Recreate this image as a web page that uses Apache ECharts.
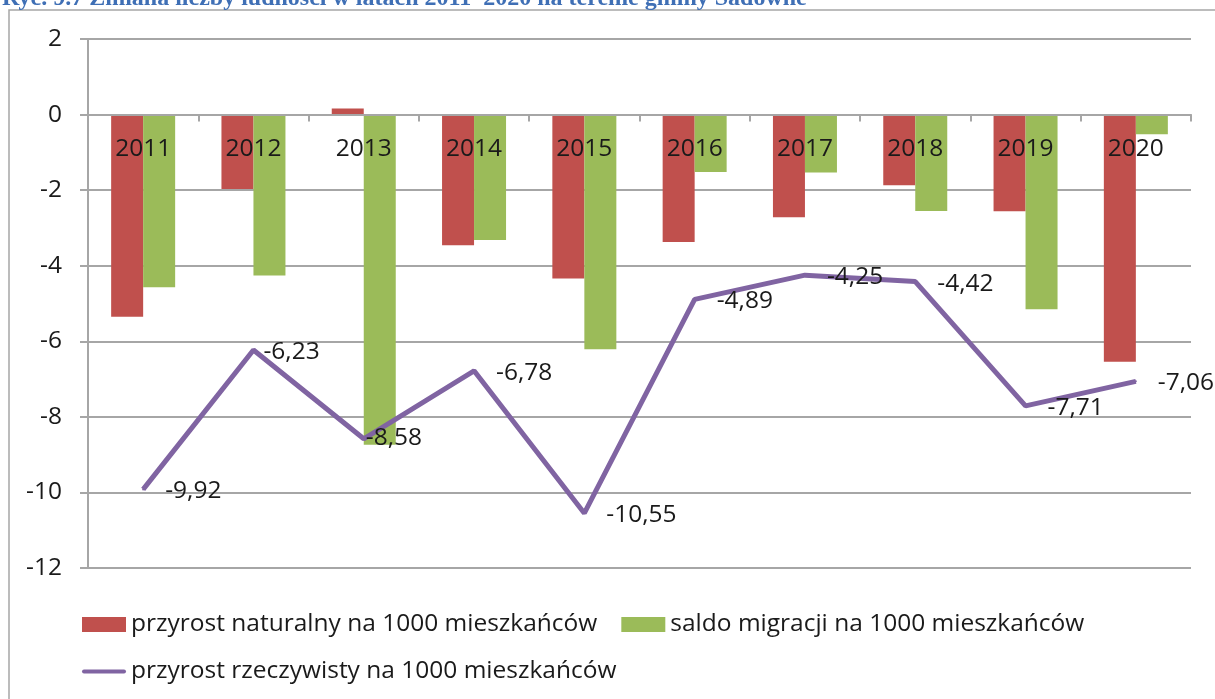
<!DOCTYPE html>
<html>
<head>
<meta charset="utf-8">
<title>Zmiana liczby ludności 2011-2020</title>
<script src="https://cdn.jsdelivr.net/npm/echarts@6/dist/echarts.min.js"></script>
<style>
  html, body { margin: 0; padding: 0; background: #fff; }
  #chart { width: 1215px; height: 699px; }
</style>
</head>
<body>
<div id="chart"></div>
<script>
// lata
const years = ['2011', '2012', '2013', '2014', '2015', '2016', '2017', '2018', '2019', '2020']
// przyrost naturalny na 1000 mieszkańców
const naturalGrowth = [-5.35, -1.97, 0.16, -3.46, -4.34, -3.37, -2.72, -1.87, -2.56, -6.54]
// saldo migracji na 1000 mieszkańców
const migrationBalance = [-4.57, -4.26, -8.74, -3.32, -6.21, -1.52, -1.53, -2.55, -5.15, -0.52]
// przyrost rzeczywisty na 1000 mieszkańców
const realGrowth = [-9.92, -6.23, -8.58, -6.78, -10.55, -4.89, -4.25, -4.42, -7.71, -7.06]
// podziałka osi Y
const yTicks = [2, 0, -2, -4, -6, -8, -10, -12]

const seriesNames = [
  'przyrost naturalny na 1000 mieszkańców',
  'saldo migracji na 1000 mieszkańców',
  'przyrost rzeczywisty na 1000 mieszkańców',
]
// przesunięcia etykiet linii (tak jak w oryginale)
const labelShift = { 1: [-12, 2], 2: [-20, -1] }

const font = '"Open Sans", Lato, sans-serif'
const fontSize = 24.5
const gridColor = '#a6a6a6'

const gridTop = 39
const gridBottom = 131
const chartH = 699

const chart = echarts.init(document.getElementById('chart'))

// oś kategorii leży na zerze - przesunięcie liczone z wysokości siatki
const plotH = chartH - gridTop - gridBottom
const yMax = yTicks[0]
const yMin = yTicks[yTicks.length - 1]
const zeroOffset = -plotH * (0 - yMin) / (yMax - yMin)

const option = {
  animation: false,
  backgroundColor: '#fff',
  graphic: [
    {
      type: 'rect',
      shape: { x: 9, y: 10, width: 1240, height: 720 },
      style: { fill: 'none', stroke: gridColor, lineWidth: 1.5 },
      silent: true,
    },
    {
      type: 'text',
      left: 2,
      top: -13,
      style: {
        text: 'Ryc. 9.7 Zmiana liczby ludności w latach 2011–2020 na terenie gminy Sadowne',
        font: 'bold 24px "Liberation Serif", "Times New Roman", serif',
        fill: '#3f6fb5',
      },
    },
  ],
  grid: { left: 88, right: 24, top: gridTop, bottom: gridBottom },
  legend: [
    {
      left: 77,
      top: 607,
      itemWidth: 44,
      itemHeight: 15,
      itemGap: 24,
      data: [
        { name: seriesNames[0], icon: 'rect' },
        { name: seriesNames[1], icon: 'rect' },
      ],
      textStyle: { fontFamily: font, fontSize: fontSize, color: '#1a1a1a' },
    },
    {
      left: 77,
      top: 654,
      itemWidth: 44,
      itemHeight: 15,
      data: [{ name: seriesNames[2], icon: 'path://M2,0 L42,0 A2,2 0 0 1 42,4 L2,4 A2,2 0 0 1 2,0 Z' }],
      textStyle: { fontFamily: font, fontSize: fontSize, color: '#1a1a1a' },
    },
  ],
  xAxis: {
    type: 'category',
    data: years,
    z: 5,
    offset: zeroOffset,
    axisLine: { onZero: false, lineStyle: { color: gridColor, width: 2 } },
    axisTick: { show: true, length: 7, lineStyle: { color: gridColor, width: 2 } },
    axisLabel: { margin: 22, fontFamily: font, fontSize: fontSize, color: '#1a1a1a' },
  },
  yAxis: {
    type: 'value',
    min: yMin,
    max: yMax,
    interval: 2,
    axisLine: { show: true, lineStyle: { color: gridColor, width: 2 } },
    axisTick: { show: true, length: 8, lineStyle: { color: gridColor, width: 2 } },
    axisLabel: { margin: 26, fontFamily: font, fontSize: fontSize, color: '#1a1a1a' },
    splitLine: { lineStyle: { color: gridColor, width: 2 } },
  },
  series: [
    {
      name: seriesNames[0],
      type: 'bar',
      data: naturalGrowth,
      barWidth: 32,
      barGap: '0%',
      itemStyle: { color: '#c0504d' },
    },
    {
      name: seriesNames[1],
      type: 'bar',
      data: migrationBalance,
      barWidth: 32,
      barGap: '0%',
      itemStyle: { color: '#9bbb59' },
    },
    {
      name: seriesNames[2],
      type: 'line',
      z: 4,
      data: realGrowth.map((v, i) => ({
        value: v,
        label: labelShift[i] ? { offset: labelShift[i] } : undefined,
      })),
      symbol: 'circle',
      symbolSize: 2,
      itemStyle: { color: '#8064a2' },
      lineStyle: { color: '#8064a2', width: 5 },
      label: {
        show: true,
        position: 'right',
        distance: 21,
        offset: [0, 2],
        fontFamily: font,
        fontSize: fontSize,
        color: '#1a1a1a',
        formatter: (p) => p.value.toFixed(2).replace('.', ','),
      },
    },
  ],
}

chart.setOption(option)
</script>
</body>
</html>
